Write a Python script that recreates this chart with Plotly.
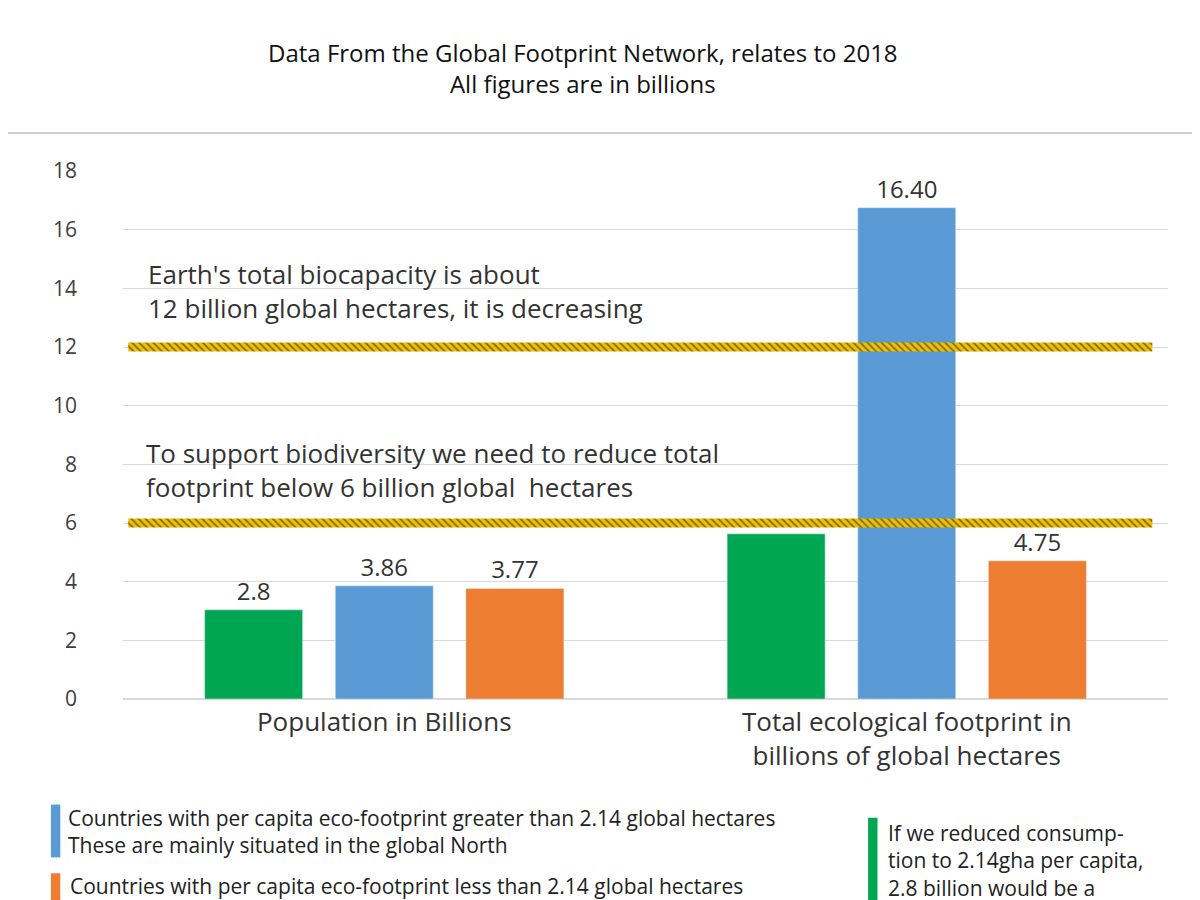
import plotly.graph_objects as go

categories = ["Population in Billions", "Total ecological footprint in<br>billions of global hectares"]
green_vals = [3.04, 5.63]
blue_vals = [3.86, 16.75]
orange_vals = [3.77, 4.71]
green_text = ["2.8", ""]
blue_text = ["3.86", "16.40"]
orange_text = ["3.77", "4.75"]
limits = [12, 6]

GREEN, BLUE, ORANGE = "#00a651", "#5b9bd5", "#ed7d31"
FONT = "Open Sans"

fig = go.Figure()
for vals, txt, col in [(green_vals, green_text, GREEN), (blue_vals, blue_text, BLUE), (orange_vals, orange_text, ORANGE)]:
    fig.add_trace(go.Bar(x=categories, y=vals, text=txt, textposition="outside",
                         marker_color=col, textfont=dict(size=24, color="#333"),
                         cliponaxis=False, showlegend=False))

# hatched limit bands on an overlaid numeric x axis
for lim in limits:
    fig.add_trace(go.Scatter(
        x=[0.005, 0.985, 0.985, 0.005, 0.005],
        y=[lim - 0.15, lim - 0.15, lim + 0.15, lim + 0.15, lim - 0.15],
        xaxis="x2", fill="toself", mode="lines", line=dict(width=0),
        fillcolor="#f2c200",
        fillpattern=dict(shape="\\", fgcolor="#222", bgcolor="#f2c200", size=5, solidity=0.4),
        showlegend=False, hoverinfo="skip"))

fig.update_layout(
    width=1200, height=900, plot_bgcolor="white", paper_bgcolor="white",
    margin=dict(l=115, r=40, t=163, b=209),
    barmode="group", bargap=0.25, bargroupgap=0.25,
    font=dict(family=FONT, color="#333"),
    yaxis=dict(range=[0, 18], dtick=2, gridcolor="#d9d9d9", ticks="", automargin=False,
               tickfont=dict(size=21, color="#404040"), ticklabelstandoff=45,
               zeroline=True, zerolinecolor="#d9d9d9"),
    xaxis=dict(tickfont=dict(size=26, color="#333"), showline=True, linecolor="#d9d9d9",
               automargin=False),
    xaxis2=dict(range=[0, 1], overlaying="x", visible=False),
    shapes=[
        dict(type="line", xref="paper", yref="paper", x0=-0.11, x1=1.04, y0=1.0 + 38/528, y1=1.0 + 38/528,
             line=dict(color="#d0d0d0", width=2)),
        dict(type="rect", xref="paper", yref="paper", x0=-0.069, x1=-0.06, y0=-0.2, y1=-0.3,
             fillcolor=BLUE, line_width=0),
        dict(type="rect", xref="paper", yref="paper", x0=-0.069, x1=-0.06, y0=-0.33, y1=-0.4,
             fillcolor=ORANGE, line_width=0),
        dict(type="rect", xref="paper", yref="paper", x0=0.713, x1=0.722, y0=-0.225, y1=-0.4,
             fillcolor=GREEN, line_width=0),
    ],
    annotations=[
        dict(text="Data From the Global Footprint Network, relates to 2018<br>All figures are in billions",
             xref="paper", yref="paper", x=0.44, y=1.0 + 103/528, showarrow=False,
             font=dict(size=24, color="#111"), align="center", yanchor="middle"),
        dict(text="Earth's total biocapacity is about<br>12 billion global hectares, it is decreasing",
             xref="paper", yref="y", x=0.022, y=13.9, xanchor="left", yanchor="middle", align="left",
             showarrow=False, font=dict(size=26, color="#333")),
        dict(text="To support biodiversity we need to reduce total<br>footprint below 6 billion global  hectares",
             xref="paper", yref="y", x=0.02, y=7.8, xanchor="left", yanchor="middle", align="left",
             showarrow=False, font=dict(size=26, color="#333")),
        dict(text="Countries with per capita eco-footprint greater than 2.14 global hectares<br>These are mainly situated in the global North",
             xref="paper", yref="paper", x=-0.055, y=-0.25, xanchor="left", yanchor="middle", align="left",
             showarrow=False, font=dict(size=21, color="#222")),
        dict(text="Countries with per capita eco-footprint less than 2.14 global hectares",
             xref="paper", yref="paper", x=-0.053, y=-0.355, xanchor="left", yanchor="middle", align="left",
             showarrow=False, font=dict(size=21, color="#222")),
        dict(text="If we reduced consump-<br>tion to 2.14gha per capita,<br>2.8 billion would be a",
             xref="paper", yref="paper", x=0.73, y=-0.305, xanchor="left", yanchor="middle", align="left",
             showarrow=False, font=dict(size=21, color="#222")),
    ],
)

fig.write_html("out.html")
